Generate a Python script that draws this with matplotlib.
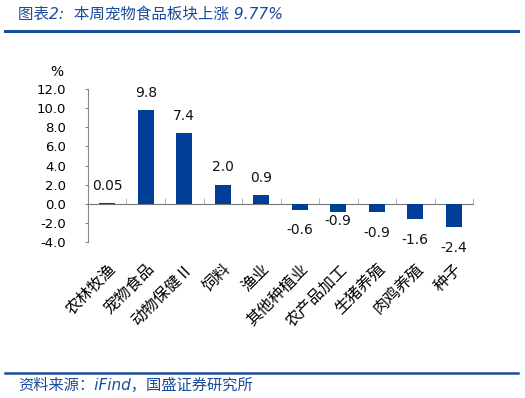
import matplotlib
matplotlib.use("Agg")
import matplotlib.pyplot as plt
import numpy as np

# 农林牧渔各子板块周涨跌幅
categories = ["农林牧渔", "宠物食品", "动物保健Ⅱ", "饲料", "渔业",
              "其他种植业", "农产品加工", "生猪养殖", "肉鸡养殖", "种子"]
values = [0.05, 9.8, 7.4, 2.0, 0.9, -0.6, -0.9, -0.9, -1.6, -2.4]
value_labels = ["0.05", "9.8", "7.4", "2.0", "0.9", "-0.6", "-0.9", "-0.9", "-1.6", "-2.4"]
yticks = [-4, -2, 0, 2, 4, 6, 8, 10, 12]

BLUE = "#003E97"
TITLE_BLUE = "#1B4C9C"
CJK = ["Noto Sans CJK SC", "DejaVu Sans"]

fig = plt.figure(figsize=(5.25, 3.98), dpi=100)
ax = fig.add_axes([0.1676, 0.392, 0.901 - 0.1676, 0.384])

x = np.arange(len(categories))
ax.bar(x, values, width=0.41, color=BLUE, zorder=3)

# 数据标签
for i, (v, s) in enumerate(zip(values, value_labels)):
    if v >= 0:
        off = 12.5
    else:
        off = -6 if i == 6 else -15
    ax.annotate(s, (i, v), xytext=(0, off), textcoords="offset points",
                ha="center", va="center", fontsize=10, color="#111111")

ax.set_xlim(-0.5, len(categories) - 0.5)
ax.set_ylim(-4, 12)
ax.set_yticks(yticks)
ax.set_yticklabels([f"{t:.1f}" for t in yticks], fontsize=9.5)
ax.tick_params(axis="y", direction="out", length=2, color="#888888", pad=14)

ax.spines["top"].set_visible(False)
ax.spines["right"].set_visible(False)
ax.spines["left"].set_color("#888888")
ax.spines["bottom"].set_position(("data", 0))
ax.spines["bottom"].set_color("#777777")

ax.set_xticks(x)
ax.set_xticklabels(categories, rotation=45, ha="right", rotation_mode="anchor",
                   family=CJK, fontsize=11.5)
ax.set_xticks(np.arange(len(categories) + 1) - 0.5, minor=True)
ax.tick_params(axis="x", which="major", length=0, pad=41)
ax.tick_params(axis="x", which="minor", direction="in", length=4, color="#aaaaaa")

ax.text(-0.08, 1.11, "%", transform=ax.transAxes, fontsize=10, ha="center", va="center")

# 标题和来源
fig.text(0.034, 0.965, "图表2:  本周宠物食品板块上涨 9.77%", family=["DejaVu Sans", "Noto Sans CJK SC"],
         style="italic", fontsize=11.2, color=TITLE_BLUE, ha="left", va="center")
fig.add_artist(plt.Line2D([0.01, 0.987], [0.922, 0.922], color=TITLE_BLUE, lw=2.2))
fig.add_artist(plt.Line2D([0.01, 0.987], [0.063, 0.063], color=TITLE_BLUE, lw=1.8))
fig.text(0.034, 0.032, "资料来源：iFind，国盛证券研究所", family=["DejaVu Sans", "Noto Sans CJK SC"],
         style="italic", fontsize=11, color=TITLE_BLUE, ha="left", va="center")

fig.savefig("out.png", dpi=100)
